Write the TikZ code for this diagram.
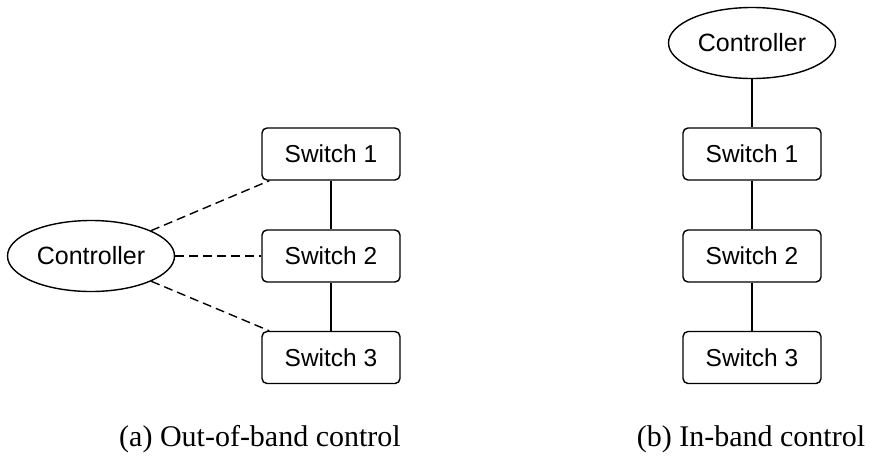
\documentclass[tikz,border=0pt]{standalone}
\usepackage{fontspec}
\setmainfont{Liberation Serif}
\setsansfont{Liberation Sans}
\usetikzlibrary{positioning, shapes.geometric}

\tikzset{
  switchbox/.style={draw, line width=1.4pt, rounded corners=5pt, minimum width=138pt,
    minimum height=52pt, font=\sffamily\fontsize{24.5}{28}\selectfont},
  ctrl/.style={draw, ellipse, line width=1.4pt, minimum width=167pt, minimum height=71pt,
    inner sep=0pt, font=\sffamily\fontsize{25}{28}\selectfont},
  link/.style={line width=1.4pt},
  ctrllink/.style={line width=1.4pt, dash pattern=on 9pt off 5pt},
  caption/.style={font=\fontsize{30}{34}\selectfont}
}

\begin{document}
\begin{tikzpicture}[x=1pt, y=-1pt]
  \useasboundingbox (0,0) rectangle (870,461);
  % (a) out-of-band
  \node[switchbox] (sa1) at (331,154) {Switch 1};
  \node[switchbox] (sa2) at (331,256) {Switch 2};
  \node[switchbox] (sa3) at (331,357.5) {Switch 3};
  \node[ctrl] (ca) at (91,256) {Controller};
  \draw[link] (sa1) -- (sa2);
  \draw[link] (sa2) -- (sa3);
  \draw[ctrllink] (ca) -- ([xshift=8pt]sa1.south west);
  \draw[ctrllink] (ca) -- (sa2);
  \draw[ctrllink] (ca) -- ([xshift=8pt]sa3.north west);
  \node[caption] (capa) at (260,439) {(a) Out-of-band control};
  % (b) in-band
  \node[ctrl] (cb) at (752,43) {Controller};
  \node[switchbox] (sb1) at (752,154) {Switch 1};
  \node[switchbox] (sb2) at (752,256) {Switch 2};
  \node[switchbox] (sb3) at (752,357.5) {Switch 3};
  \draw[link] (cb) -- (sb1);
  \draw[link] (sb1) -- (sb2);
  \draw[link] (sb2) -- (sb3);
  \node[caption] (capb) at (751,439) {(b) In-band control};
\end{tikzpicture}
\end{document}
